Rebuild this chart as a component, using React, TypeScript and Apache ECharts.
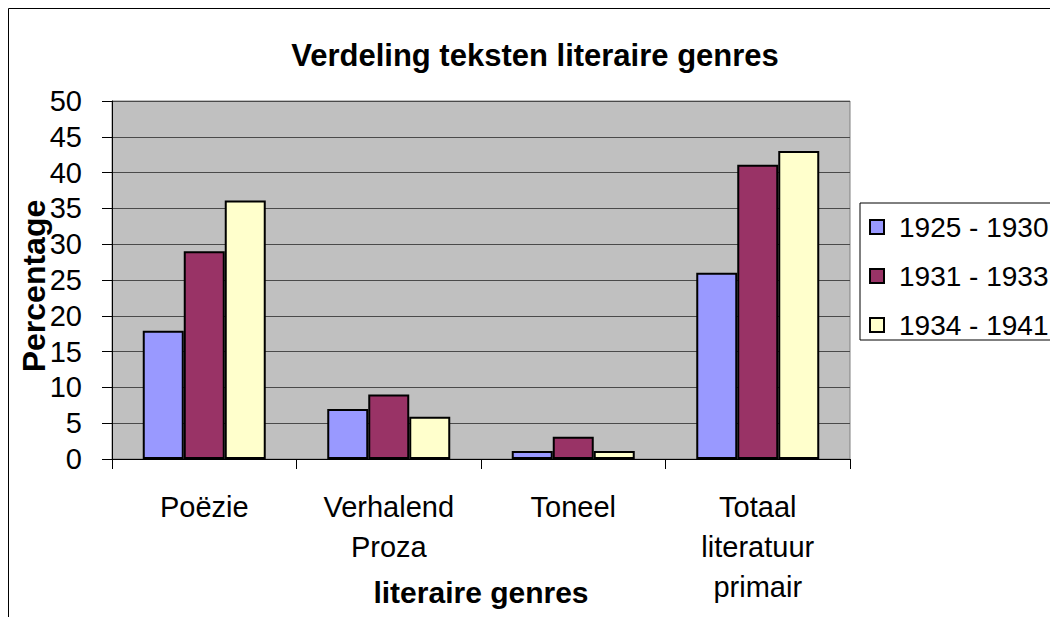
import React, { useEffect, useRef } from "react";
import * as echarts from "echarts";

const categories = ["Poëzie", "Verhalend\nProza", "Toneel", "Totaal\nliteratuur\nprimair"];
const seriesNames = ["1925 - 1930", "1931 - 1933", "1934 - 1941"];
const values1925 = [17.9, 7, 1.1, 26];
const values1931 = [29, 9, 3.1, 41.1];
const values1934 = [36.1, 5.9, 1.1, 43];
const seriesColors = ["#9999FF", "#993366", "#FFFFCC"];
const yTicks = { min: 0, max: 50, interval: 5 };

const FONT = "Arial, 'Liberation Sans', Helvetica, sans-serif";

export default function App() {
  const ref = useRef<HTMLDivElement>(null);
  useEffect(() => {
    document.body.style.margin = "0";
    const chart = echarts.init(ref.current!, null, { renderer: "svg" });
    const data = [values1925, values1931, values1934];
    chart.setOption({
      animation: false,
      backgroundColor: "#FFFFFF",
      textStyle: { fontFamily: FONT, color: "#000" },
      title: {
        text: "Verdeling teksten literaire genres",
        left: 530,
        top: 35,
        textAlign: "center",
        textStyle: { fontFamily: FONT, fontWeight: "bold", fontSize: 31, color: "#000" },
      },
      graphic: [
        {
          type: "rect",
          shape: { x: 8.5, y: 8.5, width: 1200, height: 800 },
          style: { fill: "none", stroke: "#000", lineWidth: 1 },
          silent: true,
          z: -10,
        },
      ],
      legend: {
        orient: "vertical",
        left: 860,
        top: 203,
        backgroundColor: "#FFFFFF",
        borderColor: "#000",
        borderWidth: 1,
        padding: [10, 10, 1, 9],
        itemGap: 21,
        itemWidth: 14,
        itemHeight: 14,
        icon: "rect",
        textStyle: { fontFamily: FONT, fontSize: 28, color: "#000", padding: [0, 0, 0, 10] },
        data: seriesNames,
      },
      grid: {
        left: 112,
        right: 200,
        top: 101,
        bottom: 158,
        outerBoundsMode: "none",
        containLabel: false,
        show: true,
        backgroundColor: "#C0C0C0",
        borderColor: "#808080",
        borderWidth: 1,
      },
      xAxis: {
        type: "category",
        data: categories,
        name: "literaire genres",
        nameLocation: "middle",
        nameGap: 118,
        nameMoveOverlap: false,
        nameTextStyle: { fontFamily: FONT, fontWeight: "bold", fontSize: 30, color: "#000" },
        axisLine: { lineStyle: { color: "#000", width: 1 } },
        axisTick: { show: true, alignWithLabel: false, length: 10, lineStyle: { color: "#000" } },
        axisLabel: {
          interval: 0,
          margin: 28,
          fontFamily: FONT,
          fontSize: 29,
          lineHeight: 40,
          color: "#000",
        },
        splitLine: { show: false },
      },
      yAxis: {
        type: "value",
        min: yTicks.min,
        max: yTicks.max,
        interval: yTicks.interval,
        name: "Percentage",
        nameLocation: "middle",
        nameGap: 62,
        nameMoveOverlap: false,
        nameTextStyle: {
          fontFamily: FONT,
          fontWeight: "bold",
          fontSize: 32,
          color: "#000",
          padding: [0, 12, 0, 0],
        },
        axisLine: { show: true, lineStyle: { color: "#000", width: 1 } },
        axisTick: { show: true, length: 10, lineStyle: { color: "#000" } },
        axisLabel: { margin: 30, fontFamily: FONT, fontSize: 29, color: "#000" },
        splitLine: { show: true, lineStyle: { color: "#4A4A4A", width: 1 } },
      },
      series: seriesNames.map((name, i) => ({
        name,
        type: "bar",
        data: data[i],
        barWidth: 41,
        barGap: "0%",
        itemStyle: { color: seriesColors[i], borderColor: "#000", borderWidth: 2 },
      })),
    });
    return () => chart.dispose();
  }, []);
  return <div ref={ref} style={{ width: 1050, height: 617, overflow: "hidden" }} />;
}
